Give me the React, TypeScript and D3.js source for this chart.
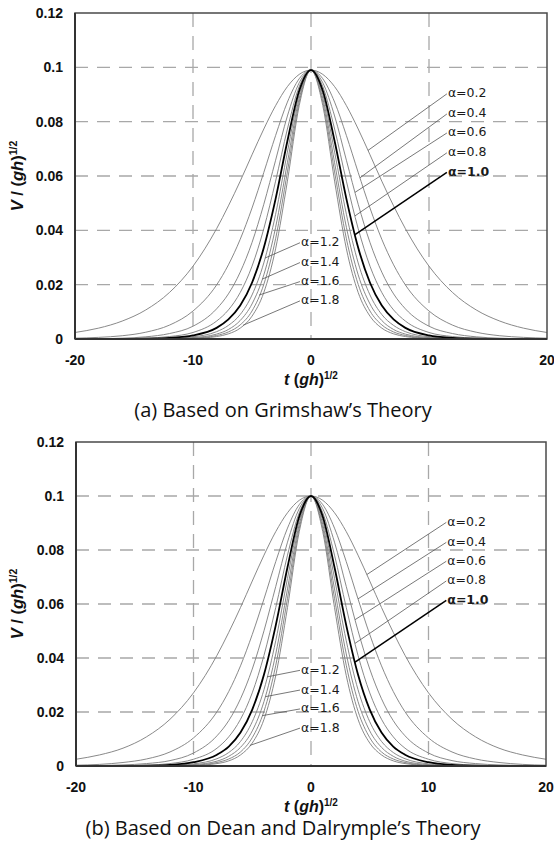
import React from "react";
import * as d3 from "d3";

// time grid (positive half; curves are symmetric about t = 0)
const T_GRID = [0, 1, 2, 3, 4, 5, 6, 7, 8, 10, 12, 14, 16, 18, 20];
const ALPHAS = ["0.2", "0.4", "0.6", "0.8", "1.0", "1.2", "1.4", "1.6", "1.8"];
const X_TICKS = [-20, -10, 0, 10, 20];
const Y_TICKS = [0, 0.02, 0.04, 0.06, 0.08, 0.1, 0.12];

// (a) Grimshaw
const grimA02 = [0.099, 0.0974, 0.0929, 0.0859, 0.0773, 0.0678, 0.0581, 0.049, 0.0406, 0.0268, 0.0171, 0.0107, 0.0066, 0.004, 0.0024];
const grimA04 = [0.099, 0.0958, 0.0872, 0.0749, 0.0613, 0.0482, 0.0367, 0.0273, 0.0199, 0.0103, 0.0051, 0.0025, 0.0012, 0.0006, 0.0003];
const grimA06 = [0.099, 0.0943, 0.0821, 0.0658, 0.0496, 0.0355, 0.0246, 0.0166, 0.0111, 0.0047, 0.002, 0.0008, 0.0003, 0.0001, 0.0001];
const grimA08 = [0.099, 0.0929, 0.0773, 0.0581, 0.0406, 0.0268, 0.0171, 0.0107, 0.0066, 0.0024, 0.0009, 0.0003, 0.0001, 0, 0];
const grimA10 = [0.099, 0.0914, 0.0729, 0.0516, 0.0336, 0.0207, 0.0123, 0.0072, 0.0041, 0.0013, 0.0004, 0.0001, 0, 0, 0];
const grimA12 = [0.099, 0.09, 0.0688, 0.0459, 0.028, 0.0162, 0.009, 0.005, 0.0027, 0.0008, 0.0002, 0.0001, 0, 0, 0];
const grimA14 = [0.099, 0.0886, 0.0649, 0.0411, 0.0236, 0.0129, 0.0068, 0.0035, 0.0018, 0.0005, 0.0001, 0, 0, 0, 0];
const grimA16 = [0.099, 0.0872, 0.0615, 0.0369, 0.0201, 0.0103, 0.0052, 0.0026, 0.0013, 0.0003, 0.0001, 0, 0, 0, 0];
const grimA18 = [0.099, 0.0859, 0.0581, 0.0332, 0.0171, 0.0084, 0.004, 0.0019, 0.0009, 0.0002, 0, 0, 0, 0, 0];

// (b) Dean and Dalrymple
const deanA02 = [0.1, 0.0984, 0.0938, 0.0868, 0.0781, 0.0685, 0.0587, 0.0495, 0.041, 0.0271, 0.0173, 0.0108, 0.0066, 0.0041, 0.0025];
const deanA04 = [0.1, 0.0968, 0.0881, 0.0757, 0.0619, 0.0487, 0.0371, 0.0276, 0.0201, 0.0104, 0.0052, 0.0026, 0.0013, 0.0006, 0.0003];
const deanA06 = [0.1, 0.0953, 0.0829, 0.0665, 0.0501, 0.0359, 0.0249, 0.0168, 0.0112, 0.0048, 0.002, 0.0009, 0.0004, 0.0002, 0.0001];
const deanA08 = [0.1, 0.0938, 0.0781, 0.0587, 0.041, 0.0271, 0.0173, 0.0108, 0.0066, 0.0025, 0.0009, 0.0003, 0.0001, 0, 0];
const deanA10 = [0.1, 0.0924, 0.0736, 0.0521, 0.0339, 0.0209, 0.0124, 0.0072, 0.0042, 0.0014, 0.0004, 0.0001, 0, 0, 0];
const deanA12 = [0.1, 0.0909, 0.0695, 0.0464, 0.0283, 0.0164, 0.0091, 0.005, 0.0027, 0.0008, 0.0002, 0.0001, 0, 0, 0];
const deanA14 = [0.1, 0.0895, 0.0656, 0.0415, 0.0239, 0.013, 0.0069, 0.0036, 0.0018, 0.0005, 0.0001, 0, 0, 0, 0];
const deanA16 = [0.1, 0.0881, 0.0621, 0.0373, 0.0203, 0.0105, 0.0052, 0.0026, 0.0013, 0.0003, 0.0001, 0, 0, 0, 0];
const deanA18 = [0.1, 0.0868, 0.0587, 0.0335, 0.0173, 0.0085, 0.0041, 0.0019, 0.0009, 0.0002, 0, 0, 0, 0, 0];

// label annotations (data units): label anchor and the t where the leader meets the curve
const LABEL_V_UPPER = [0.0906, 0.0832, 0.0762, 0.0689, 0.0617];
const LABEL_V_LOWER = [0.0358, 0.0285, 0.0215, 0.0144];
const LABEL_T_UPPER = 11.6;
const LABEL_T_LOWER = -0.85;
const grimLeaderT = [4.83, 4.15, 3.73, 3.73, 3.73, -3.9, -4.15, -4.4, -5.76];
const deanLeaderT = [4.75, 4.0, 3.75, 3.75, 3.75, -3.74, -3.9, -4.17, -5.2];

const GRIM = [grimA02, grimA04, grimA06, grimA08, grimA10, grimA12, grimA14, grimA16, grimA18];
const DEAN = [deanA02, deanA04, deanA06, deanA08, deanA10, deanA12, deanA14, deanA16, deanA18];

function mirror(vals: number[]) {
  const pts: [number, number][] = [];
  for (let i = T_GRID.length - 1; i > 0; i--) pts.push([-T_GRID[i], vals[i]]);
  for (let i = 0; i < T_GRID.length; i++) pts.push([T_GRID[i], vals[i]]);
  return pts;
}

const AXIS_FONT = "'Liberation Sans', Arial, sans-serif";
const LABEL_FONT = "'DejaVu Sans', Verdana, sans-serif";

type PanelProps = {
  series: number[][];
  leaderT: number[];
  left: number;
  right: number;
  top: number;
  bottom: number;
  caption: string;
  captionY: number;
};

function Panel({ series, leaderT, left, right, top, bottom, caption, captionY }: PanelProps) {
  const x = d3.scaleLinear().domain([-20, 20]).range([left, right]);
  const y = d3.scaleLinear().domain([0, 0.12]).range([bottom, top]);
  const line = d3
    .line<[number, number]>()
    .x((d) => x(d[0]))
    .y((d) => y(d[1]))
    .curve(d3.curveMonotoneX);

  const curves = series.map((vals) => mirror(vals));
  const drawOrder = [0, 1, 2, 3, 5, 6, 7, 8, 4];

  const gridColor = "#a8a8a8";
  const midY = (top + bottom) / 2;

  return (
    <g>
      {/* grid */}
      {[-10, 0, 10].map((t) => (
        <line key={"gx" + t} x1={x(t)} x2={x(t)} y1={top} y2={bottom} stroke={gridColor} strokeWidth={1.3} strokeDasharray="14,9" />
      ))}
      {[0.02, 0.04, 0.06, 0.08, 0.1].map((v) => (
        <line key={"gy" + v} x1={left} x2={right} y1={y(v)} y2={y(v)} stroke={gridColor} strokeWidth={1.3} strokeDasharray="13,9" />
      ))}

      {/* curves */}
      {drawOrder.map((i) => {
        const bold = ALPHAS[i] === "1.0";
        return (
          <path
            key={"c" + i}
            d={line(curves[i]) || ""}
            fill="none"
            stroke={bold ? "#000" : "#7c7c7c"}
            strokeWidth={bold ? 1.8 : 0.9}
          />
        );
      })}

      {/* leaders + labels */}
      {ALPHAS.map((a, i) => {
        const upper = i < 5;
        const bold = a === "1.0";
        const lt = upper ? LABEL_T_UPPER : LABEL_T_LOWER;
        const lv = upper ? LABEL_V_UPPER[i] : LABEL_V_LOWER[i - 5];
        const pts = curves[i];
        const interp = d3.scaleLinear().domain(pts.map((p) => p[0])).range(pts.map((p) => p[1]));
        const et = leaderT[i];
        const ev = interp(et);
        const lx = x(lt);
        const ly = y(lv);
        return (
          <g key={"l" + i}>
            <line
              x1={lx - 1}
              y1={ly + 1}
              x2={x(et)}
              y2={y(ev)}
              stroke={bold ? "#000" : "#555"}
              strokeWidth={bold ? 1.5 : 0.8}
            />
            <text
              x={lx}
              y={ly}
              dy="0.36em"
              fontFamily={LABEL_FONT}
              fontSize={12.5}
              fontWeight={bold ? "bold" : "normal"}
              fill="#1a1a1a"
            >
              {"α=" + a}
            </text>
          </g>
        );
      })}

      {/* frame */}
      <rect x={left} y={top} width={right - left} height={bottom - top} fill="none" stroke="#4a4a4a" strokeWidth={1.5} />
      <line x1={left} x2={left} y1={top} y2={bottom} stroke="#333" strokeWidth={2} />
      <line x1={left} x2={right} y1={bottom} y2={bottom} stroke="#333" strokeWidth={2} />

      {/* y ticks */}
      {Y_TICKS.map((v) => (
        <text
          key={"yt" + v}
          x={left - 12}
          y={y(v)}
          dy="0.36em"
          textAnchor="end"
          fontFamily={AXIS_FONT}
          fontWeight="bold"
          fontSize={14}
          fill="#111"
        >
          {String(v)}
        </text>
      ))}
      {/* x ticks */}
      {X_TICKS.map((t) => (
        <text
          key={"xt" + t}
          x={x(t)}
          y={bottom + 26}
          textAnchor="middle"
          fontFamily={AXIS_FONT}
          fontWeight="bold"
          fontSize={14}
          fill="#111"
        >
          {String(t)}
        </text>
      ))}

      {/* x title */}
      <text x={x(0)} y={bottom + 46} textAnchor="middle" fontFamily={AXIS_FONT} fontWeight="bold" fontSize={16} fill="#111">
        <tspan fontStyle="italic">t</tspan>
        <tspan> (</tspan>
        <tspan fontStyle="italic">gh</tspan>
        <tspan>)</tspan>
        <tspan fontSize={10} dy={-6}>1/2</tspan>
      </text>

      {/* y title */}
      <text
        transform={`translate(23,${midY}) rotate(-90)`}
        textAnchor="middle"
        fontFamily={AXIS_FONT}
        fontWeight="bold"
        fontSize={16.5}
        fill="#111"
      >
        <tspan fontStyle="italic">V</tspan>
        <tspan> / (</tspan>
        <tspan fontStyle="italic">gh</tspan>
        <tspan>)</tspan>
        <tspan fontSize={10.5} dy={-6}>1/2</tspan>
      </text>

      {/* caption */}
      <text x={283} y={captionY} textAnchor="middle" fontFamily="'Open Sans', 'Noto Sans', sans-serif" fontSize={20} fill="#111">
        {caption}
      </text>
    </g>
  );
}

export default function App() {
  return (
    <svg
      width={554}
      height={847}
      viewBox="0 0 554 847"
      style={{ position: "absolute", left: 0, top: 0, background: "#fff" }}
    >
      <rect width={554} height={847} fill="#fff" />
      <Panel
        series={GRIM}
        leaderT={grimLeaderT}
        left={75}
        right={547}
        top={13}
        bottom={339}
        caption="(a) Based on Grimshaw’s Theory"
        captionY={417}
      />
      <Panel
        series={DEAN}
        leaderT={deanLeaderT}
        left={76}
        right={546}
        top={442}
        bottom={766}
        caption="(b) Based on Dean and Dalrymple’s Theory"
        captionY={835}
      />
    </svg>
  );
}
